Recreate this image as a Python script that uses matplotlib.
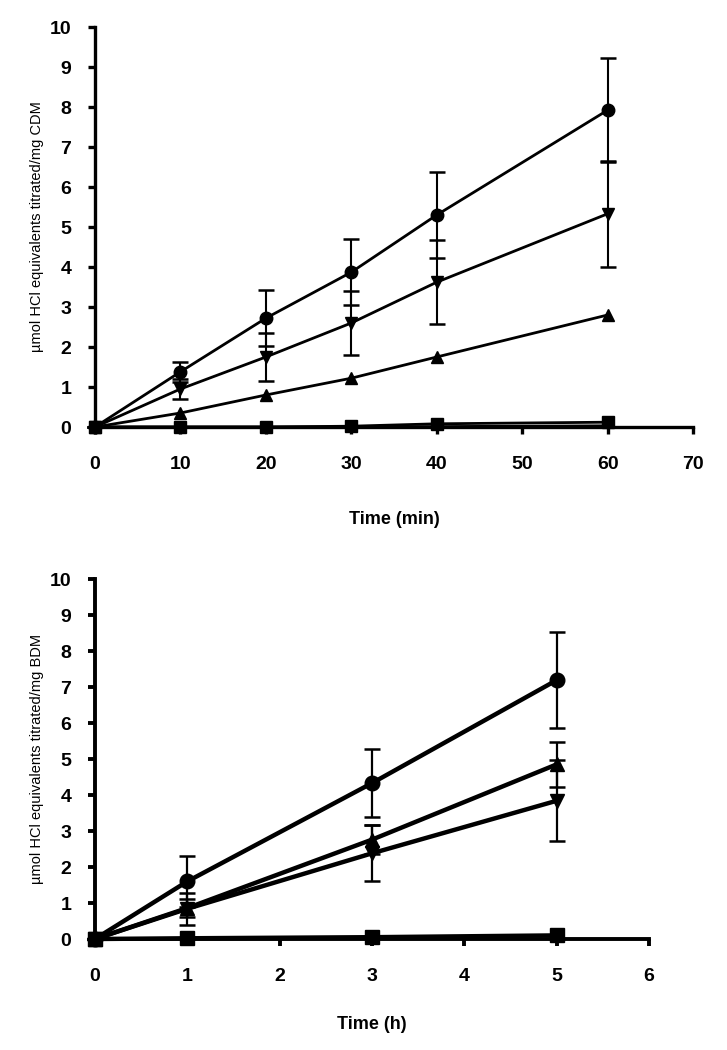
import matplotlib
matplotlib.use("Agg")
import matplotlib.pyplot as plt
import numpy as np

plt.rcParams['font.family'] = ['Liberation Sans', 'DejaVu Sans']

# ---- Top panel (CDM, minutes) ----
t_min = [0, 10, 20, 30, 40, 60]
top_circle = [0, 1.38, 2.72, 3.87, 5.30, 7.92]
top_circle_err = [0, 0.25, 0.70, 0.83, 1.07, 1.30]
top_down = [0, 0.95, 1.75, 2.60, 3.62, 5.33]
top_down_err = [0, 0.25, 0.60, 0.80, 1.05, 1.33]
top_up = [0, 0.35, 0.80, 1.22, 1.75, 2.80]
top_square = [0, 0.0, 0.0, 0.02, 0.08, 0.12]
top_zero = [0, 0.0, 0.0, 0.0, 0.01, 0.03]
top_xticks = [0, 10, 20, 30, 40, 50, 60, 70]

# ---- Bottom panel (BDM, hours) ----
t_h = [0, 1, 3, 5]
bot_circle = [0, 1.60, 4.33, 7.19]
bot_circle_err = [0, 0.70, 0.95, 1.34]
bot_up = [0, 0.86, 2.76, 4.85]
bot_up_err = [0, 0.24, 0.41, 0.62]
bot_down = [0, 0.84, 2.38, 3.84]
bot_down_err = [0, 0.45, 0.78, 1.13]
bot_square = [0, 0.02, 0.05, 0.10]
bot_xticks = [0, 1, 2, 3, 4, 5, 6]
yticks = list(range(0, 11))

W, H = 727, 1050
fig = plt.figure(figsize=(W / 100, H / 100), dpi=100)


def make_axes(x0, x1, y0px, y10px):
    return fig.add_axes([x0 / W, 1 - y0px / H, (x1 - x0) / W, (y0px - y10px) / H])


def style(ax, xticks, xmax, spine_lw, xlabel, ylabel, xlabelpad):
    ax.set_xlim(0, xmax)
    ax.set_ylim(0, 10)
    for s in ['top', 'right']:
        ax.spines[s].set_visible(False)
    for s in ['left', 'bottom']:
        ax.spines[s].set_linewidth(spine_lw)
        ax.spines[s].set_capstyle('projecting')
    ax.set_xticks(xticks)
    ax.set_yticks(yticks)
    ax.tick_params(axis='both', direction='out', length=5, width=spine_lw,
                   labelsize=14)
    ax.tick_params(axis='y', pad=12)
    ax.tick_params(axis='x', pad=16)
    for lab in ax.get_xticklabels() + ax.get_yticklabels():
        lab.set_fontweight('bold')
    ax.set_xlabel(xlabel, fontsize=13, fontweight='bold', labelpad=xlabelpad)
    ax.set_ylabel(ylabel, fontsize=10.5, labelpad=4)


# Top
ax1 = make_axes(95, 693, 427, 27)
style(ax1, top_xticks, 70, 2.4, 'Time (min)',
      'µmol HCl equivalents titrated/mg CDM', 27)
lw1 = 2.0
ax1.errorbar(t_min, top_circle, yerr=top_circle_err, fmt='none', ecolor='black',
             elinewidth=1.5, capsize=6, capthick=1.8, clip_on=False, zorder=3)
ax1.errorbar(t_min, top_down, yerr=top_down_err, fmt='none', ecolor='black',
             elinewidth=1.5, capsize=6, capthick=1.8, clip_on=False, zorder=3)
ax1.plot(t_min, top_zero, color='black', lw=lw1, clip_on=False, zorder=4)
ax1.plot(t_min, top_square, color='black', lw=lw1, marker='s', ms=9,
         clip_on=False, zorder=5)
ax1.plot(t_min, top_up, color='black', lw=lw1, marker='^', ms=9,
         clip_on=False, zorder=5)
ax1.plot(t_min, top_down, color='black', lw=lw1, marker='v', ms=9,
         clip_on=False, zorder=5)
ax1.plot(t_min, top_circle, color='black', lw=lw1, marker='o', ms=9,
         clip_on=False, zorder=5)

# Bottom
ax2 = make_axes(95, 649, 939, 579)
style(ax2, bot_xticks, 6, 2.8, 'Time (h)',
      'µmol HCl equivalents titrated/mg BDM', 22)
lw2 = 3.2
for vals, errs in [(bot_circle, bot_circle_err), (bot_up, bot_up_err),
                   (bot_down, bot_down_err)]:
    ax2.errorbar(t_h, vals, yerr=errs, fmt='none', ecolor='black',
                 elinewidth=1.6, capsize=6, capthick=1.8, clip_on=False, zorder=3)
ax2.plot(t_h, bot_square, color='black', lw=lw2, marker='s', ms=10,
         clip_on=False, zorder=5)
ax2.plot(t_h, bot_down, color='black', lw=lw2, marker='v', ms=10,
         clip_on=False, zorder=5)
ax2.plot(t_h, bot_up, color='black', lw=lw2, marker='^', ms=10,
         clip_on=False, zorder=5)
ax2.plot(t_h, bot_circle, color='black', lw=lw2, marker='o', ms=10.5,
         clip_on=False, zorder=5)

fig.savefig('out.png', dpi=100)
